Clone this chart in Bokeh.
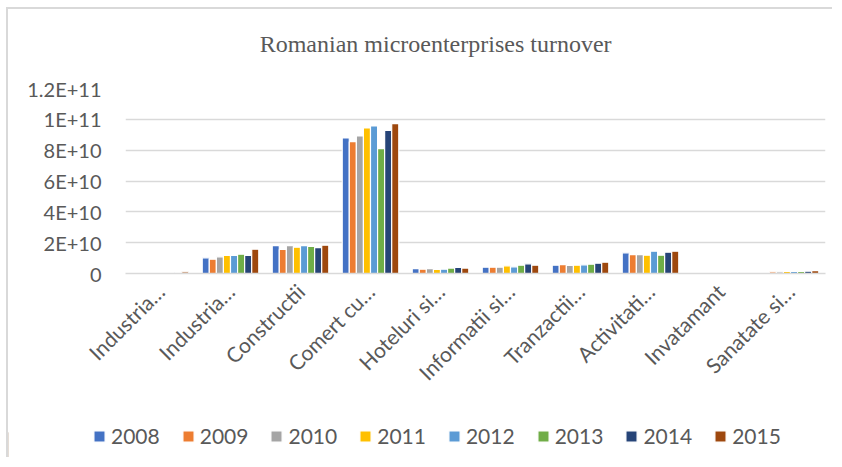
import math
from bokeh.plotting import figure
from bokeh.models import ColumnDataSource, FixedTicker, Legend, LegendItem, Spacer
from bokeh.core.properties import value
from bokeh.layouts import column, row
from bokeh.transform import dodge
from bokeh.embed import file_html
from bokeh.resources import INLINE

# ---- data (values in billions of lei) ----
chart_title = "Romanian microenterprises turnover"
categories = ["Industria…", "Industria…", "Constructii", "Comert cu…", "Hoteluri si…",
              "Informatii si…", "Tranzactii…", "Activitati…", "Invatamant", "Sanatate si…"]
years = ["2008", "2009", "2010", "2011", "2012", "2013", "2014", "2015"]
y2008 = [0.3, 10.2, 18.1, 87.9, 3.2, 4.1, 5.4, 13.4, 0.2, 0.6]
y2009 = [0.3, 9.3, 15.6, 85.5, 2.8, 4.1, 5.8, 12.3, 0.2, 1.1]
y2010 = [0.2, 10.8, 18.1, 89.2, 3.2, 4.1, 5.2, 12.3, 0.2, 1.1]
y2011 = [0.2, 11.7, 17.1, 94.4, 2.6, 5.0, 5.4, 11.9, 0.2, 1.3]
y2012 = [0.3, 11.7, 18.1, 95.7, 2.8, 4.3, 5.6, 14.5, 0.3, 1.3]
y2013 = [0.4, 12.5, 17.5, 81.0, 3.5, 5.4, 6.0, 11.9, 0.3, 1.3]
y2014 = [0.6, 11.7, 16.8, 92.9, 3.9, 6.3, 6.7, 13.8, 0.4, 1.5]
y2015 = [1.1, 15.8, 18.4, 97.2, 3.5, 5.4, 7.3, 14.5, 0.4, 1.9]
series = [y2008, y2009, y2010, y2011, y2012, y2013, y2014, y2015]
colors = ["#4472C4", "#ED7D31", "#A5A5A5", "#FFC000", "#5B9BD5", "#70AD47", "#264478", "#9E480E"]
y_ticks = [0, 2e10, 4e10, 6e10, 8e10, 1e11, 1.2e11]
y_tick_labels = ["0", "2E+10", "4E+10", "6E+10", "8E+10", "1E+11", "1.2E+11"]
SCALE = 1e9

TXT = "#595959"
GRID = "#D9D9D9"
FONT = "Lato"
BORDER = "2px solid #D9D9D9"
W = 826

positions = [i + 0.5 for i in range(len(categories))]
data = {"x": positions}
for yr, vals in zip(years, series):
    data[yr] = [v * SCALE for v in vals]
source = ColumnDataSource(data)

# ---- header strip with the chart title ----
hf = figure(width=W, height=66, x_range=(0, 1), y_range=(0, 1),
            output_backend="svg", toolbar_location=None,
            min_border_left=0, min_border_right=0, min_border_top=0, min_border_bottom=0,
            styles={"border-left": BORDER, "border-top": BORDER})
hf.axis.visible = False
hf.grid.visible = False
hf.outline_line_color = None
hf.text(x=[0.443], y=[0.47], text=[chart_title], text_align="center",
        text_baseline="alphabetic", text_font=value("Liberation Serif"),
        text_font_size="24px", text_color=TXT)

# ---- main chart ----
p = figure(width=W, height=334, x_range=(0, len(categories)), y_range=(0, 1.2e11),
           output_backend="svg", toolbar_location=None,
           min_border_left=117, min_border_right=9, min_border_top=15, min_border_bottom=134,
           styles={"border-left": BORDER})
p.outline_line_color = None
p.background_fill_color = "white"
p.border_fill_color = "white"

slot = 0.101
for i, (yr, col) in enumerate(zip(years, colors)):
    p.vbar(x=dodge("x", (i - 3.5) * slot, range=p.x_range), top=yr, width=slot,
           source=source, fill_color=col, line_color="white", line_width=1.2)

p.xgrid.grid_line_color = None
p.ygrid.grid_line_color = GRID
p.ygrid.grid_line_width = 1.5
p.yaxis.ticker = FixedTicker(ticks=y_ticks)
p.yaxis.major_label_overrides = {t: l for t, l in zip(y_ticks, y_tick_labels)}
p.yaxis.axis_line_color = None
p.yaxis.major_tick_line_color = None
p.yaxis.minor_tick_line_color = None
p.yaxis.major_label_standoff = 18
p.yaxis.major_label_text_font = FONT
p.yaxis.major_label_text_font_size = "20px"
p.yaxis.major_label_text_color = TXT

p.xaxis.ticker = FixedTicker(ticks=positions)
p.xaxis.major_label_overrides = {t: l for t, l in zip(positions, categories)}
p.xaxis.major_label_orientation = math.pi / 4
p.xaxis.axis_line_color = GRID
p.xaxis.axis_line_width = 1.5
p.xaxis.major_tick_line_color = None
p.xaxis.minor_tick_line_color = None
p.xaxis.major_label_standoff = 8
p.xaxis.major_label_text_font = FONT
p.xaxis.major_label_text_font_size = "21px"
p.xaxis.major_label_text_color = TXT

# ---- legend strip (same series colours; proxy bars lie outside the visible range) ----
lf = figure(width=W, height=50, x_range=(0, 1), y_range=(0, 1),
            output_backend="svg", toolbar_location=None,
            min_border_left=0, min_border_right=0, min_border_top=0, min_border_bottom=0,
            styles={"border-left": BORDER})
lf.axis.visible = False
lf.grid.visible = False
lf.outline_line_color = None
items = []
for yr, col in zip(years, colors):
    r = lf.vbar(x=[-5], top=[0.5], width=0.1, fill_color=col, line_color="white", line_width=1.2)
    items.append(LegendItem(label=yr, renderers=[r]))
legend = Legend(items=items, orientation="horizontal", location=(84, 9),
                glyph_width=14, glyph_height=14, label_standoff=5, spacing=21,
                padding=0, margin=0, border_line_color=None, background_fill_alpha=0,
                label_text_font=FONT, label_text_font_size="21px", label_text_color=TXT)
lf.add_layout(legend, "center")

layout = column(Spacer(height=7),
                row(Spacer(width=6), column(hf, p, spacing=0), spacing=0),
                row(Spacer(width=6), lf, spacing=0),
                spacing=0)

open("out.html", "w").write(file_html(layout, INLINE))
